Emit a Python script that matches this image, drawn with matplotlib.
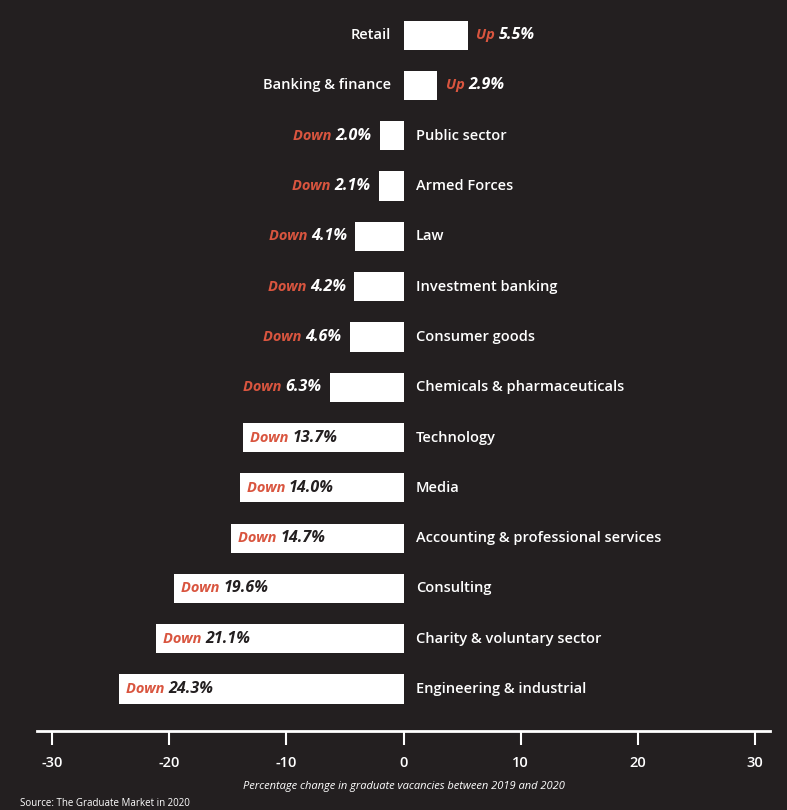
import matplotlib
matplotlib.use("Agg")
import matplotlib.pyplot as plt
from matplotlib.offsetbox import TextArea, HPacker, AnnotationBbox

categories = ["Retail", "Banking & finance", "Public sector", "Armed Forces", "Law",
              "Investment banking", "Consumer goods", "Chemicals & pharmaceuticals",
              "Technology", "Media", "Accounting & professional services", "Consulting",
              "Charity & voluntary sector", "Engineering & industrial"]
values = [5.5, 2.9, -2.0, -2.1, -4.1, -4.2, -4.6, -6.3, -13.7, -14.0, -14.7, -19.6, -21.1, -24.3]
ticks = [-30, -20, -10, 0, 10, 20, 30]

BG = "#231f20"
RED = "#d9553f"
plt.rcParams['font.family'] = ['Open Sans', 'DejaVu Sans']

fig = plt.figure(figsize=(7.87, 8.10), dpi=100, facecolor=BG)
ax = fig.add_axes([37/787, 79/810, 733/787, 721/810], facecolor=BG)
ys = list(range(len(categories)))
ax.barh(ys, values, height=0.58, color="white")
ax.set_xlim(-31.3, 31.3)
ax.set_ylim(13.835, -0.5)

for y, cat, v in zip(ys, categories, values):
    word = "Up" if v > 0 else "Down"
    num = f"{abs(v):.1f}%"
    if v > 0:
        ax.annotate(cat, (0, y), xytext=(-9, 0), textcoords="offset points",
                    ha="right", va="center", color="white", fontsize=10.5, fontweight="semibold")
        inside = False
    else:
        ax.annotate(cat, (0, y), xytext=(9, 0), textcoords="offset points",
                    ha="left", va="center", color="white", fontsize=10.5, fontweight="semibold")
        inside = abs(v) > 10
    numcol = BG if inside else "white"
    box = HPacker(children=[
        TextArea(word + " ", textprops=dict(color=RED, fontsize=10.5, fontstyle="italic", fontweight="bold")),
        TextArea(num, textprops=dict(color=numcol, fontsize=11.5, fontstyle="italic", fontweight="bold"))],
        align="baseline", pad=0, sep=0)
    if v > 0:
        ab = AnnotationBbox(box, (v, y), xybox=(6, 0), xycoords="data", boxcoords="offset points",
                            box_alignment=(0, 0.5), frameon=False, pad=0)
    elif inside:
        ab = AnnotationBbox(box, (v, y), xybox=(5, 0), xycoords="data", boxcoords="offset points",
                            box_alignment=(0, 0.5), frameon=False, pad=0)
    else:
        ab = AnnotationBbox(box, (v, y), xybox=(-6, 0), xycoords="data", boxcoords="offset points",
                            box_alignment=(1, 0.5), frameon=False, pad=0)
    ax.add_artist(ab)

for s in ["top", "left", "right"]:
    ax.spines[s].set_visible(False)
ax.spines["bottom"].set_color("white")
ax.spines["bottom"].set_linewidth(2)
ax.set_yticks([])
ax.set_xticks(ticks)
ax.set_xticklabels([str(t) for t in ticks], fontweight="semibold")
ax.tick_params(axis="x", colors="white", length=10, width=1.5, labelsize=10.5, pad=8)
ax.set_xlabel("Percentage change in graduate vacancies between 2019 and 2020",
              color="white", fontsize=8, fontstyle="italic", labelpad=8)
fig.text(20/787, 1/810, "Source: The Graduate Market in 2020", color="white", fontsize=7, va="bottom")
fig.savefig("out.png", dpi=100, facecolor=BG)
